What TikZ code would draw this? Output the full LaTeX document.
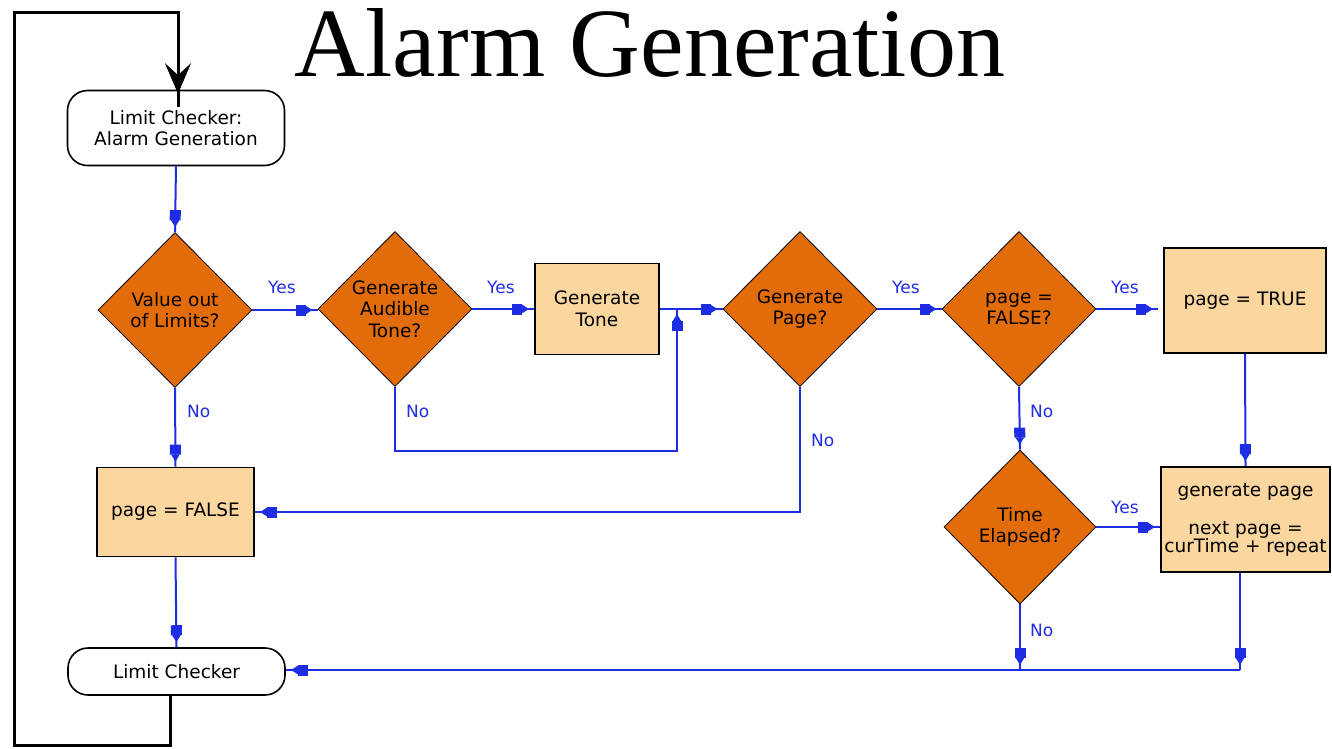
\documentclass[tikz,border=0pt]{standalone}
\usepackage{fontspec}
\usetikzlibrary{shapes.geometric,arrows.meta,decorations.markings}
\newfontfamily\titlefont{Liberation Serif}
\newfontfamily\chartfont{DejaVu Sans}
\definecolor{flowblue}{RGB}{30,45,228}
\definecolor{decisionfill}{RGB}{227,108,10}
\definecolor{processfill}{RGB}{251,214,158}
\tikzset{
  decision/.style={diamond, aspect=1, draw=black, line width=0.8pt, fill=decisionfill,
    minimum width=154pt, minimum height=155pt, inner sep=0pt, align=center,
    font=\chartfont\fontsize{18.5}{21.5}\selectfont},
  process/.style={rectangle, draw=black, line width=1.8pt, fill=processfill,
    inner sep=0pt, align=center, font=\chartfont\fontsize{18.5}{21.5}\selectfont},
  terminal/.style={rectangle, rounded corners=20pt, draw=black, line width=1.6pt, fill=white,
    minimum width=217pt, inner sep=0pt, align=center,
    font=\chartfont\fontsize{18.5}{21.5}\selectfont},
  flow/.style={color=flowblue, draw, line width=2pt, postaction={decorate},
    decoration={markings, mark=at position -5pt with
      {\arrow{Square[length=10pt,width=11pt,fill=flowblue] Triangle[length=7pt,width=8pt,fill=flowblue]}}}},
  answer/.style={anchor=west, text=flowblue, inner sep=0pt,
    font=\chartfont\fontsize{17}{19}\selectfont},
  loopline/.style={color=black, draw, line width=3pt},
  loophead/.style={fill=black, draw=black, line width=0.8pt, line join=miter}
}
\begin{document}
\begin{tikzpicture}[x=1pt,y=-1pt]
  \useasboundingbox (0,0) rectangle (1332,748);
  \fill[white] (0,0) rectangle (1332,748);

  % title
  \node[anchor=base, inner sep=0pt, font=\titlefont\fontsize{98}{98}\selectfont] (title) at (650,76) {Alarm Generation};

  % nodes
  \node[terminal, minimum height=75pt] (lc1) at (176,128) {Limit Checker:\\Alarm Generation};
  \node[decision] (d1) at (175,310) {Value out\\of Limits?};
  \node[decision] (d2) at (395,309) {Generate\\Audible\\Tone?};
  \node[process, minimum width=124pt, minimum height=91pt] (tone) at (597,309) {Generate\\Tone};
  \node[decision] (d3) at (800,309) {Generate\\Page?};
  \node[decision] (d4) at (1019,309) {page =\\FALSE?};
  \node[process, minimum width=162pt, minimum height=105pt] (pt) at (1245,300.5) {page = TRUE};
  \node[decision, minimum width=152pt, minimum height=154pt] (d5) at (1020,527) {Time\\Elapsed?};
  \node[process, minimum width=169pt, minimum height=105pt] (gp) at (1245.5,519.5)
    {generate page\\[17pt]next page =\\[-4pt]curTime + repeat};
  \node[process, minimum width=157pt, minimum height=89pt] (pf) at (175.5,512) {page = FALSE};
  \node[terminal, minimum height=47pt] (lc2) at (176.5,671.5) {Limit Checker};

  % junction points
  \coordinate (j1) at (677,451);
  \coordinate (j2) at (677,309);
  \coordinate (j3) at (1240,670);
  \coordinate (c1) at (14,745);
  \coordinate (c2) at (14,12);
  \coordinate (tip) at ([xshift=2pt,yshift=-3pt]lc1.north);

  % connectors
  \draw[flow] (lc1.south) -- (d1.north);
  \draw[flow] (d1.east) -- (d1.east -| d2.west);
  \draw[flow] (d2.east) -- (tone.west);
  \draw[flow] (tone.east) -- (d3.west);
  \draw[flow] (d2.south) |- (j1) -- (j2);
  \draw[flow] (d3.east) -- (d4.west);
  \draw[flow] (d4.east) -- ([xshift=-5pt]pt.west |- d4.east);
  \draw[flow] (d4.south) -- (d5.north);
  \draw[flow] (pt.south) -- (gp.north);
  \draw[flow] (d5.east) -- (d5.east -| gp.west);
  \draw[flow] (gp.south -| j3) -- (j3);
  \draw[flow] (d5.south) -- (d5.south |- j3);
  \draw[flow] (j3) -- (j3 -| lc2.east);
  \draw[flow] (d3.south) |- (pf.east);
  \draw[flow] (d1.south) -- (pf.north);
  \draw[flow] (pf.south) -- (lc2.north);

  % return loop with its arrowhead
  \draw[loopline] ([xshift=-6pt]lc2.south) |- (c1) -- (c2) -| ([yshift=-14pt]tip);
  \path[loophead] (tip) -- ++(-12,-28) -- ++(12,11) -- ++(12,-11) -- cycle;

  % answer labels
  \node[answer] (y1) at (268,287) {Yes};
  \node[answer] (y2) at (487,287) {Yes};
  \node[answer] (y3) at (892,287) {Yes};
  \node[answer] (y4) at (1111,287) {Yes};
  \node[answer] (y5) at (1111,507) {Yes};
  \node[answer] (n1) at (187,411) {No};
  \node[answer] (n2) at (406,411) {No};
  \node[answer] (n3) at (811,440) {No};
  \node[answer] (n4) at (1030,411) {No};
  \node[answer] (n5) at (1030,630) {No};
\end{tikzpicture}
\end{document}
